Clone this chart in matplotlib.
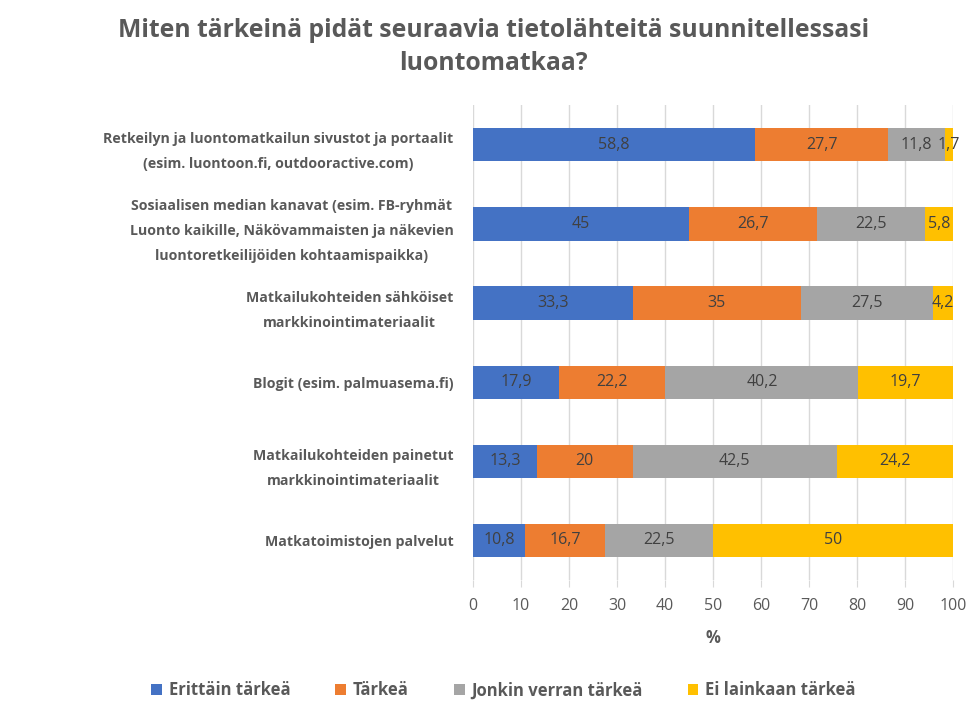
import matplotlib
matplotlib.use("Agg")
import matplotlib.pyplot as plt
import numpy as np

categories = [
    "Retkeilyn ja luontomatkailun sivustot ja portaalit\n(esim. luontoon.fi, outdooractive.com)",
    "Sosiaalisen median kanavat (esim. FB-ryhmät\nLuonto kaikille, Näkövammaisten ja näkevien\nluontoretkeilijöiden kohtaamispaikka)",
    "Matkailukohteiden sähköiset\nmarkkinointimateriaalit",
    "Blogit (esim. palmuasema.fi)",
    "Matkailukohteiden painetut\nmarkkinointimateriaalit",
    "Matkatoimistojen palvelut",
]
series_names = ["Erittäin tärkeä", "Tärkeä", "Jonkin verran tärkeä", "Ei lainkaan tärkeä"]
erittain = [58.8, 45, 33.3, 17.9, 13.3, 10.8]
tarkea = [27.7, 26.7, 35, 22.2, 20, 16.7]
jonkin = [11.8, 22.5, 27.5, 40.2, 42.5, 22.5]
ei = [1.7, 5.8, 4.2, 19.7, 24.2, 50]
xticks = list(range(0, 101, 10))

colors = ["#4472C4", "#ED7D31", "#A5A5A5", "#FFC000"]
font = ["Open Sans", "DejaVu Sans"]
plt.rcParams['font.family'] = font
txtcol = "#595959"

fig = plt.figure(figsize=(9.68, 7.06), dpi=100)
ax = fig.add_axes([0.4886, 0.1785, 0.4959, 0.6725])

y = np.arange(len(categories))
left = np.zeros(len(categories))
for name, vals, c in zip(series_names, [erittain, tarkea, jonkin, ei], colors):
    vals = np.array(vals, dtype=float)
    bars = ax.barh(y, vals, left=left, height=0.42, color=c, label=name, zorder=3)
    for b, v, l in zip(bars, vals, left):
        lab = ("%g" % v).replace(".", ",")
        ax.text(l + v / 2, b.get_y() + b.get_height() / 2, lab, ha="center", va="center",
                fontsize=11.5, color="#404040", zorder=4)
    left += vals

ax.set_ylim(len(categories) - 0.5, -0.5)
ax.set_xlim(0, 100)
ax.set_xticks(xticks)
ax.set_xticklabels([str(t) for t in xticks], fontsize=11.5, color=txtcol)
ax.set_yticks(y)
ax.set_yticklabels(categories, fontsize=10.2, fontweight="bold", color=txtcol,
                   multialignment="center", linespacing=2.0)
ax.tick_params(axis="y", length=0, pad=14)
ax.tick_params(axis="x", length=5, color="#d9d9d9", pad=8)
ax.grid(axis="x", color="#d9d9d9", linewidth=1, zorder=0)
for s in ax.spines.values():
    s.set_visible(False)
ax.set_xlabel("%", fontsize=12, fontweight="bold", color=txtcol, labelpad=11)

fig.suptitle("Miten tärkeinä pidät seuraavia tietolähteitä suunnitellessasi\nluontomatkaa?",
             x=0.51, y=0.974, fontsize=17.8, fontweight="bold", color=txtcol, linespacing=1.4)

leg = fig.legend(loc="center", bbox_to_anchor=(0.52, 0.022), ncol=4, frameon=False,
                 fontsize=12, handlelength=0.65, handleheight=0.65, columnspacing=2.7,
                 handletextpad=0.4)
for t in leg.get_texts():
    t.set_color(txtcol)
    t.set_fontweight("bold")

fig.savefig("out.png", dpi=100, facecolor="white")
